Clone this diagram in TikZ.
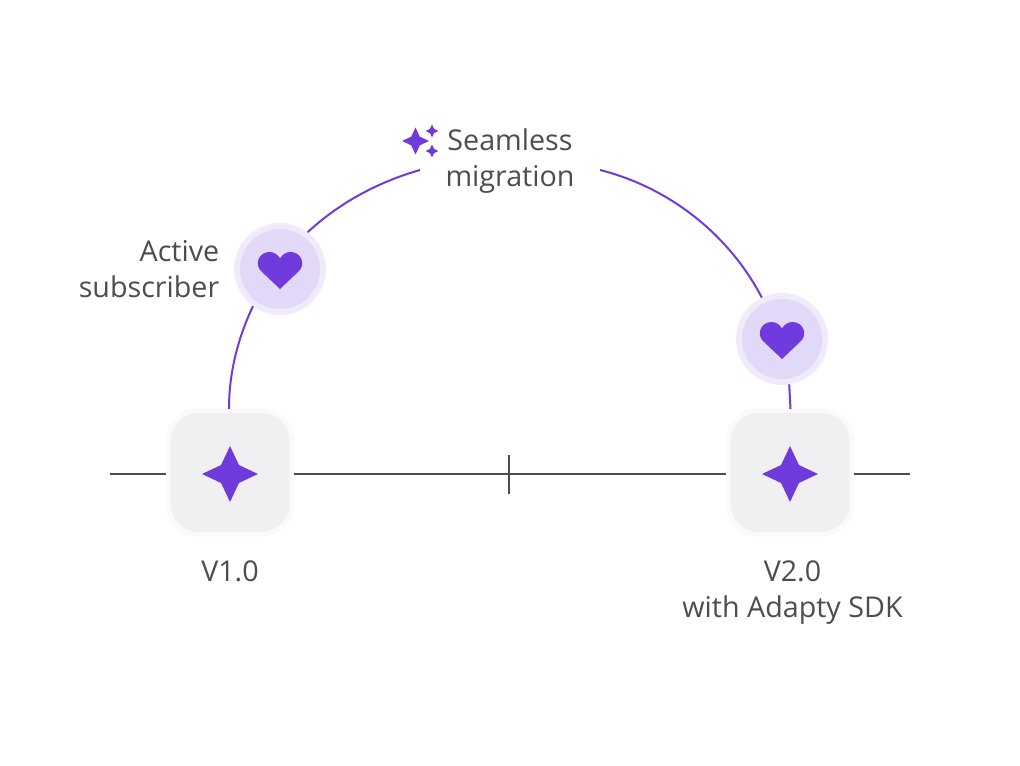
\documentclass[tikz,border=0pt]{standalone}
\usepackage{fontspec}
\setmainfont{Open Sans}
\definecolor{purp}{HTML}{6F3BDC}
\definecolor{ink}{HTML}{4D4D4D}
\definecolor{boxfill}{HTML}{F0F0F2}
\definecolor{boxhalo}{HTML}{FAFAFC}
\definecolor{circfill}{HTML}{E2D8F8}
\definecolor{circhalo}{HTML}{F0EBFB}
\newcommand{\starat}[3]{\begin{scope}[shift={(#1,#2)},scale=#3]\fill[purp] (0,-1) -- (0.32,-0.32) -- (1,0) -- (0.32,0.32) -- (0,1) -- (-0.32,0.32) -- (-1,0) -- (-0.32,-0.32) -- cycle;\end{scope}}
\tikzset{
  appbox/.style={shape=rectangle,rounded corners=24pt,minimum size=96pt,inner sep=0pt,fill=boxhalo,outer sep=0pt},
  appinner/.style={shape=rectangle,rounded corners=22pt,minimum size=89.5pt,inner sep=0pt,fill=boxfill},
  heartdisc/.style={shape=circle,minimum size=69pt,inner sep=0pt,fill=circhalo,outer sep=0pt},
  heartinner/.style={shape=circle,minimum size=60pt,inner sep=0pt,fill=circfill},
  label/.style={text=ink,font=\fontsize{21.5}{27}\selectfont,align=center,inner sep=0pt},
  axis/.style={draw=ink,line width=1.5pt},
  arc/.style={draw=purp,line width=1.5pt},
  heartpic/.pic={\fill[purp] (0,20) -- (-19,2) .. controls (-26,-5) and (-21,-17) .. (-10.5,-17) .. controls (-5.5,-17) and (-2,-14) .. (0,-10.5) .. controls (2,-14) and (5.5,-17) .. (10.5,-17) .. controls (21,-17) and (26,-5) .. (19,2) -- cycle;}
}
\begin{document}
\begin{tikzpicture}[x=0.75pt,y=-0.75pt]
\useasboundingbox (0,0) rectangle (1020,766);
% boxes and discs
\node[appbox] (boxA) at (230,472.5) {};
\node[appinner] at (boxA.center) {};
\node[appbox] (boxB) at (790,472.5) {};
\node[appinner] at (boxB.center) {};
\node[heartdisc] (discA) at (280,269) {};
\node[heartinner] at (discA.center) {};
\node[heartdisc] (discB) at (782,339) {};
\node[heartinner] at (discB.center) {};
\pic at (discA.center) {heartpic};
\pic at (discB.center) {heartpic};
\starat{230}{474}{28}
\starat{790}{474}{28}
\starat{415.5}{141}{13.5}
\starat{432}{131}{6.5}
\starat{432}{151}{6.5}
% axis
\coordinate (axL) at (110,474);
\coordinate (axR) at (910,474);
\coordinate (axAR) at (294,474);
\coordinate (axBL) at (726,474);
\coordinate (axBR) at (854,474);
\coordinate (axAL) at (166,474);
\coordinate (tickT) at (508.5,455);
\coordinate (tickB) at (508.5,494);
\draw[axis] (axL) -- (axAL);
\draw[axis] (axAR) -- (axBL);
\draw[axis] (axBR) -- (axR);
\draw[axis] (tickT) -- (tickB);
% labels
\node[label] (seam) at (510,161.5) {Seamless\\migration};
\node[label,anchor=east,align=right] (act) at (219.5,269) {Active\\subscriber};
\node[label] (v1) at (230,571) {V1.0};
\node[label] (v2) at (792.5,592.5) {V2.0\\with Adapty SDK};
% arc
\coordinate (arcL) at (420,170);
\coordinate (arcR) at (600,170);
\coordinate (arcB) at (229,409);
\coordinate (arcC) at (790.5,409);
\draw[arc] (arcB) .. controls (229,372) and (238,338) .. (discA.234);
\draw[arc] (discA.53) .. controls (339,203) and (378,182) .. (arcL);
\draw[arc] (arcR) .. controls (675,189) and (732,240) .. (discB.116);
\draw[arc] (discB.-81) -- (arcC);
\end{tikzpicture}
\end{document}
